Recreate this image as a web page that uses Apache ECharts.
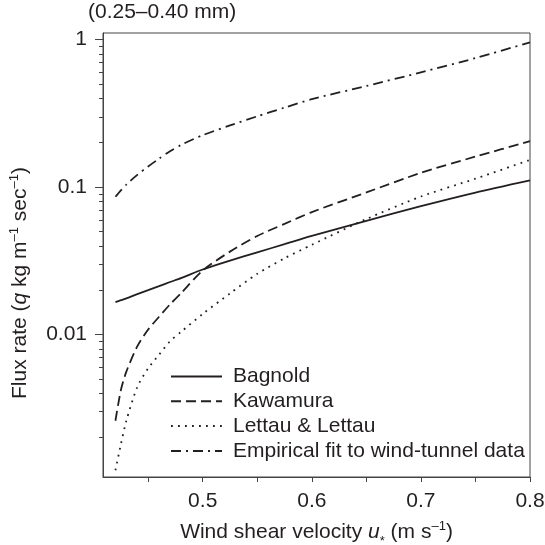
<!DOCTYPE html>
<html>
<head>
<meta charset="utf-8">
<script src="https://cdn.jsdelivr.net/npm/echarts@6/dist/echarts.min.js"></script>
<style>
html,body{margin:0;padding:0;background:#fff;}
#c{width:545px;height:545px;}
</style>
</head>
<body>
<div id="c"></div>
<script>
// Wind shear velocity u* (m s-1)
const uValues = [0.42, 0.425, 0.43, 0.44, 0.45, 0.46, 0.47, 0.48, 0.50, 0.525, 0.55, 0.575, 0.60, 0.65, 0.70, 0.75, 0.80];
// Flux rate q (kg m-1 s-1)
const bagnold  = [0.0166, 0.0171, 0.0176, 0.0188, 0.0200, 0.0213, 0.0227, 0.0241, 0.0276, 0.0317, 0.0361, 0.0410, 0.0466, 0.0590, 0.0742, 0.0918, 0.111];
const kawamura = [0.0026, 0.0042, 0.0056, 0.0083, 0.0108, 0.0132, 0.0160, 0.0190, 0.0272, 0.0365, 0.0466, 0.0563, 0.0677, 0.0920, 0.125, 0.161, 0.205];
const lettau   = [0.0012, 0.0018, 0.0026, 0.0044, 0.0059, 0.0073, 0.0090, 0.0104, 0.0138, 0.0190, 0.0258, 0.0329, 0.0406, 0.0607, 0.0863, 0.114, 0.153];
const empirical= [0.086, 0.095, 0.104, 0.121, 0.138, 0.156, 0.175, 0.193, 0.225, 0.262, 0.302, 0.346, 0.395, 0.485, 0.600, 0.750, 0.960];

const seriesNames = ['Bagnold', 'Kawamura', 'Lettau & Lettau', 'Empirical fit to wind-tunnel data'];

const xMajorTicks = [0.5, 0.6, 0.7, 0.8];
const xAllTicks = [0.45, 0.5, 0.55, 0.6, 0.65, 0.7, 0.75, 0.8];
const yMajorTicks = [0.01, 0.1, 1];
const yMinorTicks = [0.002, 0.003, 0.004, 0.005, 0.006, 0.007, 0.008, 0.009,
                     0.02, 0.03, 0.04, 0.05, 0.06, 0.07, 0.08, 0.09,
                     0.2, 0.3, 0.4, 0.5, 0.6, 0.7, 0.8, 0.9];
const yLabels = {0.01: '0.01', 0.1: '0.1', 1: '1'};

const xMin = 0.4086, xMax = 0.8, yMin = 0.00108, yMax = 1.11;

const FONT = 'Liberation Sans, Arial, Helvetica, sans-serif';
const INK = '#231f20';
const FS = 21;

function pairs(vals) { return uValues.map((u, i) => [u, vals[i]]); }

const lineBase = { color: INK, width: 1.8 };
const styles = [
  { type: 'solid' },
  { type: [10, 5] },
  { type: [1.8, 5.2] },
  { type: [10, 5, 2, 5] }
];
const datasets = [bagnold, kawamura, lettau, empirical];

const chart = echarts.init(document.getElementById('c'), null, { renderer: 'canvas' });
chart.setOption({
  animation: false,
  backgroundColor: '#fff',
  title: {
    text: '(0.25–0.40 mm)',
    left: 88, top: 2, padding: 0,
    textStyle: { fontFamily: FONT, fontSize: FS, fontWeight: 'normal', color: INK }
  },
  grid: { left: 103, right: 15, top: 33, bottom: 68, show: true, borderColor: '#444', borderWidth: 1,
          backgroundColor: 'transparent', outerBoundsMode: 'none', containLabel: false },
  legend: {
    orient: 'vertical',
    left: 170, top: 366, padding: 0,
    itemWidth: 51, itemHeight: 14, itemGap: 3.8,
    data: seriesNames,
    itemStyle: { opacity: 0 },
    textStyle: { fontFamily: FONT, fontSize: FS, color: INK, lineHeight: 21, padding: [0, 0, 0, 6] }
  },
  xAxis: {
    type: 'value', min: xMin, max: xMax,
    name: '{t|Wind shear velocity }{i|u}{sub|*}{t| (m s}{s|–1}{t|)}',
    nameLocation: 'middle', nameGap: 43,
    nameTextStyle: {
      rich: {
        t: { fontFamily: FONT, fontSize: FS, color: INK, lineHeight: 24 },
        i: { fontFamily: FONT, fontSize: FS, color: INK, fontStyle: 'italic', lineHeight: 24 },
        sub: { fontFamily: FONT, fontSize: 13, color: INK, lineHeight: 24, verticalAlign: 'bottom', padding: [0, 0, -4, 0] },
        s: { fontFamily: FONT, fontSize: 13, color: INK, lineHeight: 14, verticalAlign: 'top' }
      }
    },
    axisLine: { show: true, lineStyle: { color: '#444', width: 1 } },
    axisTick: { show: true, length: 5, customValues: xAllTicks, lineStyle: { color: '#444' } },
    axisLabel: { customValues: xMajorTicks, margin: 14, fontFamily: FONT, fontSize: FS, color: INK, formatter: v => String(v) },
    splitLine: { show: false }
  },
  yAxis: [
    {
      type: 'log', min: yMin, max: yMax, logBase: 10,
      name: '{t|Flux rate (}{i|q}{t| kg m}{s|–1}{t| sec}{s|–1}{t|)}',
      nameLocation: 'middle', nameGap: 71, nameRotate: 90,
      nameTextStyle: {
        padding: [0, 56, 0, 0],
        rich: {
          t: { fontFamily: FONT, fontSize: FS, color: INK, lineHeight: 24 },
          i: { fontFamily: FONT, fontSize: FS, color: INK, fontStyle: 'italic', lineHeight: 24 },
          s: { fontFamily: FONT, fontSize: 13, color: INK, lineHeight: 14, verticalAlign: 'top' }
        }
      },
      axisLine: { show: true, lineStyle: { color: '#444', width: 1 } },
      axisTick: { show: true, length: 8, customValues: yMajorTicks, lineStyle: { color: '#444' } },
      axisLabel: { customValues: yMajorTicks, margin: 16, fontFamily: FONT, fontSize: FS, color: INK,
                   formatter: v => yLabels[v] !== undefined ? yLabels[v] : String(v) },
      splitLine: { show: false }
    },
    {
      type: 'log', min: yMin, max: yMax, logBase: 10, position: 'left',
      axisLine: { show: false },
      axisTick: { show: true, length: 4, customValues: yMinorTicks, lineStyle: { color: '#444' } },
      axisLabel: { show: false },
      splitLine: { show: false }
    }
  ],
  series: datasets.map((d, i) => ({
    name: seriesNames[i],
    type: 'line',
    data: pairs(d),
    symbol: 'none',
    smooth: 0.25,
    yAxisIndex: 0,
    lineStyle: Object.assign({}, lineBase, styles[i]),
    itemStyle: { color: INK }
  }))
});
</script>
</body>
</html>
